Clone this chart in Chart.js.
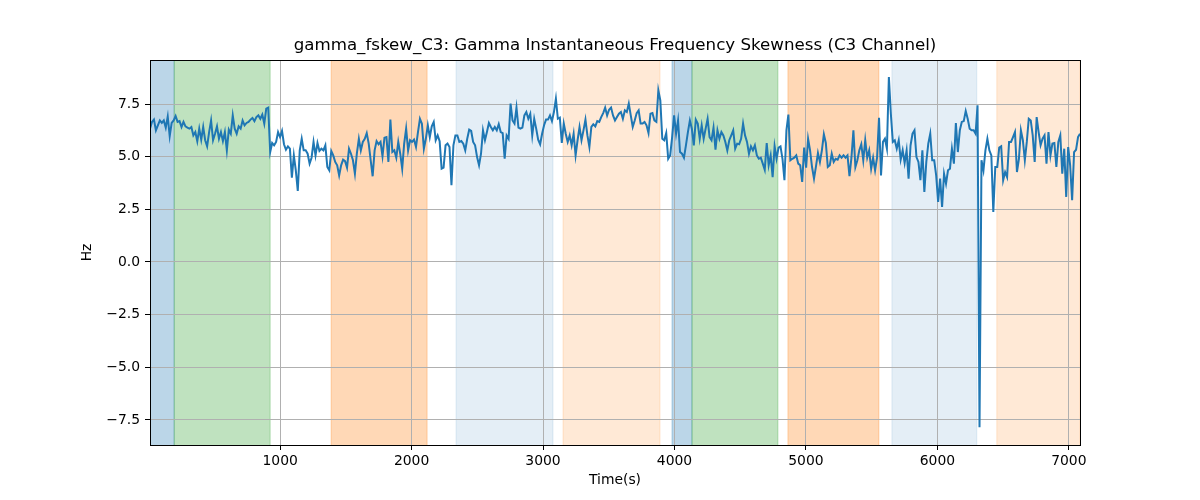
<!DOCTYPE html>
<html>
<head>
<meta charset="utf-8">
<script src="https://cdn.jsdelivr.net/npm/chart.js@4.4.0/dist/chart.umd.min.js"></script>
<style>
  html, body { margin: 0; padding: 0; background: #fff; }
</style>
</head>
<body>
<canvas id="chart" width="1200" height="500"></canvas>
<script>
// sampling of the signal (seconds)
const startTime = 10;
const endTime = 7085;

// gamma frequency skewness readings (Hz), in time order
const skewValues = [
  // 10 .. ~1170 s
  6.33,6.65,6.76,6.25,6.49,6.72,6.6,6.72,6.38,6.91,5.97,6.6,6.72,6.93,6.65,6.69,6.41,6.65,6.44,6.38,
  6.33,6.41,6.01,6.17,5.73,6.33,5.81,6.41,5.78,5.49,6.17,6.72,5.78,6.09,6.44,5.85,6.17,5.74,6.17,5.3,
  6.28,6.09,6.96,6.33,6.09,6.44,6.33,6.72,6.49,6.6,6.65,6.76,6.84,6.69,6.88,6.96,6.8,7.0,6.57,7.28,
  7.33,5.22,5.65,5.54,5.7,6.17,5.93,6.22,5.59,5.33,5.49,5.38,4.0,5.06,4.35,3.37,5.3,5.85,5.3,
  // ~1170 .. ~2400 s
  5.3,5.14,4.67,4.95,5.7,5.06,5.65,5.27,5.38,5.3,5.54,4.51,4.35,5.27,5.06,4.75,4.59,4.11,4.59,4.86,
  4.79,4.48,5.38,5.14,4.83,4.19,5.17,5.85,5.3,5.7,5.85,6.12,5.62,4.83,4.07,5.3,5.74,5.59,5.7,5.02,
  5.9,5.93,4.75,6.76,5.22,5.3,4.95,5.7,5.14,4.43,5.62,6.33,5.3,5.78,5.7,5.81,5.46,6.17,6.8,6.57,
  5.38,5.85,6.49,5.93,6.44,6.65,5.78,6.01,5.74,4.43,4.48,5.54,5.62,5.46,3.64,5.54,6.01,6.01,5.7,5.74,
  5.62,5.3,
  // ~2400 .. ~3610 s
  5.85,6.28,6.22,5.7,5.54,4.98,4.59,5.14,6.25,5.78,6.17,6.6,6.41,6.25,6.41,6.25,6.54,6.17,6.12,4.9,
  6.01,5.85,7.52,6.72,6.57,7.33,6.38,6.33,6.38,6.96,7.12,6.8,7.04,6.01,6.8,6.33,5.81,5.59,6.09,6.49,
  6.76,6.76,6.96,6.69,7.12,7.75,6.8,6.85,5.65,6.57,6.09,5.7,6.01,5.54,6.09,5.06,5.78,6.41,5.78,6.25,
  6.76,6.01,5.46,6.41,6.54,6.44,6.69,6.65,6.88,7.07,7.33,6.96,7.23,7.33,6.96,6.72,6.88,7.04,7.12,6.8,
  // ~3610 .. ~4830 s
  7.2,7.12,7.52,6.96,6.41,6.72,7.07,7.2,6.57,6.57,6.65,6.49,6.12,7.04,7.07,6.72,6.65,8.15,7.67,5.85,
  5.78,6.12,4.9,5.06,5.93,6.96,6.09,6.72,5.22,5.14,4.95,5.54,6.17,6.72,6.33,5.54,6.76,6.57,5.85,6.49,
  5.85,6.33,6.8,5.93,5.78,6.38,5.33,6.25,5.85,6.17,6.01,5.7,5.3,5.78,6.01,6.25,5.38,5.62,5.59,5.85,
  6.57,6.01,5.7,5.14,5.49,5.3,5.54,5.06,4.9,4.95,4.67,4.38,5.65,4.59,5.06,4.03,5.49,4.9,5.43,5.49,
  4.9,3.88,
  // ~4830 .. ~6040 s
  6.25,7.0,4.83,4.9,4.95,5.06,4.67,4.59,3.8,5.43,4.48,5.85,5.3,4.51,3.96,4.54,5.17,4.75,5.3,6.06,
  5.65,4.51,4.59,5.14,4.75,4.9,4.86,5.06,4.95,5.06,4.95,5.06,4.07,4.95,6.25,4.51,4.83,5.3,5.59,4.83,
  5.78,4.95,5.3,4.43,4.95,4.35,4.95,6.85,4.11,5.7,5.85,5.38,8.78,7.04,5.7,5.78,5.38,5.78,4.86,5.3,
  4.7,5.3,3.96,5.54,6.09,6.25,4.98,4.75,3.88,5.3,3.32,4.75,5.62,6.09,4.83,4.83,4.11,2.85,3.96,2.61,
  // ~6040 .. 7085 s
  4.19,3.72,4.35,4.43,5.38,4.67,6.6,5.22,6.25,6.65,6.69,7.17,6.8,6.33,6.25,6.25,6.09,7.44,-7.85,4.83,
  4.35,5.3,5.85,5.3,5.06,2.37,4.51,4.51,5.43,5.49,3.88,4.27,4.03,5.7,5.7,5.93,6.17,4.27,4.9,6.25,
  5.78,4.83,5.7,6.8,6.72,6.01,4.75,6.88,6.17,5.54,5.85,6.01,4.67,6.17,5.06,5.62,5.65,4.51,5.7,6.01,
  4.19,5.38,3.09,5.46,4.59,2.93,5.22,5.33,5.93,6.09
];

// shaded phases (seconds) and their kind
const phaseStarts = [10, 194, 1388, 2338, 3152, 3981, 4133, 4863, 5654, 6452];
const phaseEnds   = [194, 924, 2118, 3076, 3890, 4133, 4787, 5555, 6300, 7085];
const phaseKinds  = ['blue', 'green', 'orange', 'paleBlue', 'paleOrange',
                     'blue', 'green', 'orange', 'paleBlue', 'paleOrange'];

// tick labels
const xTicks = [1000, 2000, 3000, 4000, 5000, 6000, 7000];
const yTicks = [-7.5, -5.0, -2.5, 0.0, 2.5, 5.0, 7.5];

// colours for each phase kind
const phaseColors = {
  blue: 'rgba(31,119,180,0.3)',
  green: 'rgba(44,160,44,0.3)',
  orange: 'rgba(255,127,14,0.3)',
  paleBlue: 'rgba(31,119,180,0.12)',
  paleOrange: 'rgba(255,127,14,0.17)'
};

// evenly sampled time stamps
var step = (endTime - startTime) / (skewValues.length - 1);
var points = skewValues.map((v, i) => ({ x: startTime + i * step, y: v }));

// draws the shaded phases behind grid and line
const phasePlugin = {
  id: 'phases',
  beforeDraw(chart) {
    const ctx = chart.ctx;
    const area = chart.chartArea;
    const xs = chart.scales.x;
    ctx.save();
    ctx.beginPath();
    ctx.rect(area.left, area.top, area.right - area.left, area.bottom - area.top);
    ctx.clip();
    for (var i = 0; i < phaseStarts.length; i++) {
      var x1 = xs.getPixelForValue(phaseStarts[i]);
      var x2 = xs.getPixelForValue(phaseEnds[i]);
      ctx.fillStyle = phaseColors[phaseKinds[i]];
      ctx.fillRect(x1, area.top, x2 - x1, area.bottom - area.top);
      ctx.strokeStyle = phaseColors[phaseKinds[i]];
      ctx.lineWidth = 1;
      ctx.beginPath();
      ctx.moveTo(x1, area.top); ctx.lineTo(x1, area.bottom);
      ctx.moveTo(x2, area.top); ctx.lineTo(x2, area.bottom);
      ctx.stroke();
    }
    ctx.restore();
  },
  afterDraw(chart) {
    // axes frame
    const ctx = chart.ctx;
    const a = chart.chartArea;
    ctx.save();
    ctx.strokeStyle = '#000';
    ctx.lineWidth = 1;
    ctx.strokeRect(Math.round(a.left) + 0.5, Math.round(a.top) + 0.5,
      Math.round(a.right - a.left), Math.round(a.bottom - a.top));
    ctx.restore();
  }
};

Chart.defaults.font.family = "'DejaVu Sans', sans-serif";
Chart.defaults.color = '#000';

const gridStyle = {
  color: '#b0b0b0',
  lineWidth: 1,
  tickColor: '#000',
  tickLength: 5,
  tickWidth: 1
};

new Chart(document.getElementById('chart'), {
  type: 'line',
  data: {
    datasets: [{
      data: points,
      borderColor: '#1f77b4',
      borderWidth: 2,
      pointRadius: 0,
      tension: 0,
      fill: false
    }]
  },
  options: {
    responsive: false,
    animation: false,
    layout: { padding: { left: 0, right: 120, top: 0, bottom: 0 } },
    plugins: {
      legend: { display: false },
      tooltip: { enabled: false },
      title: {
        display: true,
        fullSize: false,
        text: 'gamma_fskew_C3: Gamma Instantaneous Frequency Skewness (C3 Channel)',
        color: '#000',
        font: { size: 16.67, weight: 'normal', lineHeight: 1.2 },
        padding: { top: 36, bottom: 4 }
      }
    },
    scales: {
      x: {
        type: 'linear',
        min: startTime,
        max: endTime,
        afterBuildTicks: s => { s.ticks = xTicks.map(v => ({ value: v })); },
        afterFit: s => { s.height = 55; },
        grid: gridStyle,
        border: { display: false },
        ticks: {
          font: { size: 13.9 },
          padding: 3,
          maxRotation: 0,
          autoSkip: false,
          callback: v => String(v)
        },
        title: {
          display: true,
          text: 'Time(s)',
          font: { size: 13.9 },
          padding: { top: 0, bottom: 11 }
        }
      },
      y: {
        min: -8.69,
        max: 9.59,
        afterBuildTicks: s => { s.ticks = yTicks.map(v => ({ value: v })); },
        afterFit: s => { s.width = 150; },
        grid: gridStyle,
        border: { display: false },
        ticks: {
          font: { size: 13.9 },
          padding: 5,
          autoSkip: false,
          callback: v => v.toFixed(1).replace('-', '\u2212')
        },
        title: {
          display: true,
          text: 'Hz',
          font: { size: 13.9 },
          padding: { top: 79, bottom: 0 }
        }
      }
    }
  },
  plugins: [phasePlugin]
});
</script>
</body>
</html>
